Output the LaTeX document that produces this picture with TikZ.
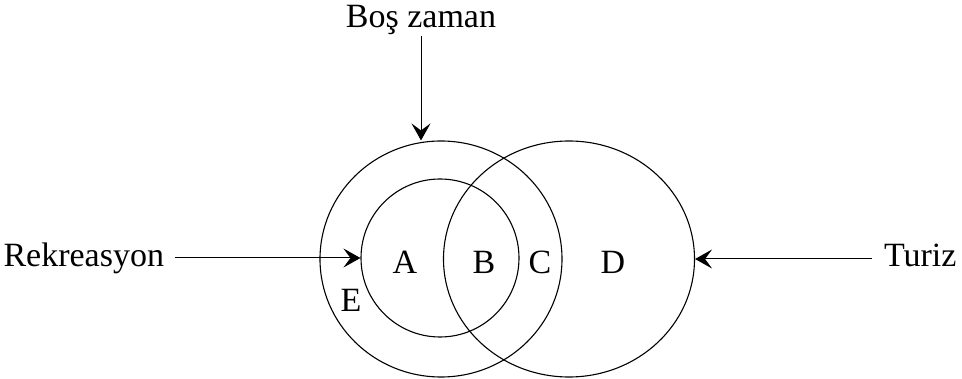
\documentclass[tikz,border=0pt]{standalone}
\usepackage{fontspec}
\setmainfont{Liberation Serif}
\usetikzlibrary{arrows.meta,shapes.geometric}
\begin{document}
\begin{tikzpicture}[x=1pt, y=-1pt, line width=1.1pt,
  lbl/.style={font=\fontsize{34}{40}\selectfont, inner sep=0pt},
  arr/.style={-{Stealth[length=17pt,width=19pt,inset=7pt]}, line width=1pt}]
\useasboundingbox (0,0) rectangle (962,379);
%\draw[very thin,color=gray] (0,0) grid[step=50] (962,379);

% circles
\node[draw, ellipse, inner sep=0pt, minimum width=242pt, minimum height=236pt] (boszaman) at (441,259) {};
\node[draw, circle, inner sep=0pt, minimum size=158pt] (rekreasyon) at (440,258) {};
\node[draw, ellipse, inner sep=0pt, minimum width=251pt, minimum height=236pt] (turizm) at (569,259) {};

% letters
\node[lbl] (a) at (405,262) {A};
\node[lbl] (b) at (484,262) {B};
\node[lbl] (c) at (540,262) {C};
\node[lbl] (d) at (613,262) {D};
\node[lbl] (e) at (351,300) {E};

% labels
\node[lbl, anchor=base] (bosyazi) at (421,28) {Boş zaman};
\node[lbl, anchor=base west] (rekyazi) at (3,267) {Rekreasyon};
\node[lbl, anchor=base east] (turyazi) at (957,267) {Turiz};

\draw[arr] (bosyazi.south) -- (bosyazi.south |- boszaman.north);
\draw[arr, shorten <=10pt] (rekyazi.east |- rekreasyon.west) -- (rekreasyon.west);
\draw[arr, shorten <=11pt] (turyazi.west |- turizm.east) -- (turizm.east);

\end{tikzpicture}
\end{document}
